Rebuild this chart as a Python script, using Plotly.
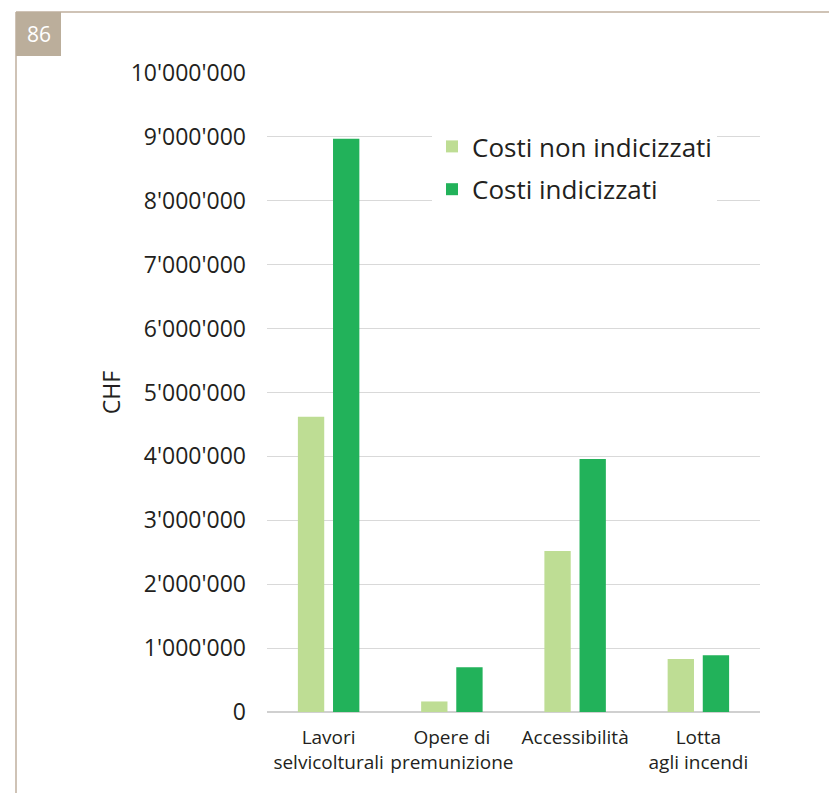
import plotly.graph_objects as go

categories = ["Lavori<br>selvicolturali", "Opere di<br>premunizione", "Accessibilità", "Lotta<br>agli incendi"]
costi_non_indicizzati = [4620000, 165000, 2520000, 830000]
costi_indicizzati = [8970000, 700000, 3960000, 890000]
tick_vals = [0, 1000000, 2000000, 3000000, 4000000, 5000000, 6000000, 7000000, 8000000, 9000000, 10000000]
tick_text = ["0", "1'000'000", "2'000'000", "3'000'000", "4'000'000", "5'000'000",
             "6'000'000", "7'000'000", "8'000'000", "9'000'000", "10'000'000"]
page_number = "86"

FONT = "Open Sans"
TXT = "#231f20"

# page body adds an 8px margin: figure coordinates = screen - 8
W, H = 829, 785
L, R, T, B = 259, 77, 65, 81
PW, PH = W - L - R, H - T - B


def px(xs):
    return (xs - 8 - L) / PW


def py(ys):
    return (H - B - (ys - 8)) / PH


fig = go.Figure()
fig.add_trace(go.Bar(x=categories, y=costi_non_indicizzati, name="Costi non indicizzati",
                     legendgroup="a",
                     marker=dict(color="#bedd94", line=dict(width=0))))
fig.add_trace(go.Bar(x=categories, y=costi_indicizzati, name="Costi indicizzati",
                     legendgroup="b",
                     marker=dict(color="#22b25a", line=dict(width=0))))

fig.update_layout(
    width=W, height=H,
    margin=dict(l=L, r=R, t=T, b=B),
    paper_bgcolor="white", plot_bgcolor="white",
    barmode="group", bargap=0.43, bargroupgap=0.25,
    font=dict(family=FONT, color=TXT),
    showlegend=True,
    legend=dict(x=px(432), y=py(123), xanchor="left", yanchor="top",
                bgcolor="white", font=dict(size=26, color=TXT, family=FONT),
                itemwidth=30, tracegroupgap=6, borderwidth=0),
    xaxis=dict(showgrid=False, showline=False, ticks="", tickfont=dict(size=19, color=TXT),
               ticklabelstandoff=12),
    yaxis=dict(range=[0, 10000000], tickvals=tick_vals, ticktext=tick_text,
               showgrid=True, gridcolor="#d9d9d9", gridwidth=1,
               zeroline=True, zerolinecolor="#d0d0d0", zerolinewidth=1.5,
               showline=False, ticks="", tickfont=dict(size=23, color=TXT),
               ticklabelstandoff=20,
               title=dict(text="CHF", font=dict(size=23, color=TXT), standoff=3)),
    shapes=[
        dict(type="line", xref="paper", yref="paper", x0=px(16), x1=px(845),
             y0=py(12), y1=py(12), line=dict(color="#cfc3b6", width=2)),
        dict(type="line", xref="paper", yref="paper", x0=px(16), x1=px(16),
             y0=py(12), y1=py(800), line=dict(color="#cfc3b6", width=2)),
        dict(type="rect", xref="paper", yref="paper", x0=px(16), x1=px(61),
             y0=py(56), y1=py(12), fillcolor="#bbae9b", line=dict(width=0)),
    ],
    annotations=[
        dict(text=page_number, xref="paper", yref="paper", x=px(38.5), y=py(34),
             showarrow=False, font=dict(size=21, color="white", family=FONT),
             xanchor="center", yanchor="middle"),
    ],
)

fig.write_html("out.html")
